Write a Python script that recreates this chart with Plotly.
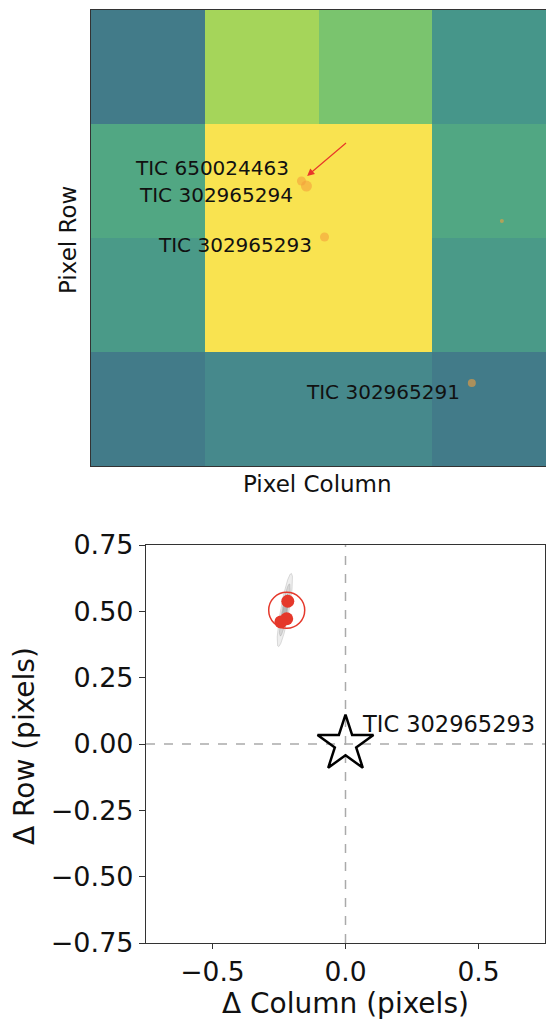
import numpy as np
import plotly.graph_objects as go

# ---------------- data ----------------
# Top panel: pixel flux image (rows listed bottom -> top), columns 0..3
pixel_flux = [
    [120, 150, 150, 120],
    [200, 520, 520, 200],
    [225, 520, 520, 225],
    [120, 370, 320, 190],
]
flux_colorscale = [[0.0, '#427b89'], [0.075, '#46898c'], [0.175, '#46968a'],
                   [0.2, '#4a9a88'], [0.2625, '#51a783'], [0.5, '#7ac46e'],
                   [0.625, '#a5d55a'], [1.0, '#f9e350']]

star_names = ['TIC 650024463', 'TIC 302965294', 'TIC 302965293', '', 'TIC 302965291']
star_col = [1.350, 1.394, 1.553, 3.112, 2.848]
star_row = [2.000, 1.956, 1.509, 1.649, 0.228]
star_size = [9, 11, 9, 4, 8]
label_col = [1.262, 1.297, 1.456, None, 2.760]
label_row = [2.114, 1.877, 1.439, None, 0.149]
arrow_tail = (1.755, 2.345)
arrow_head = (1.400, 2.044)

# Bottom panel: centroid offsets
offset_col = [-0.217, -0.221, -0.243]
offset_row = [0.538, 0.472, 0.460]
mean_col = [-0.221]
mean_row = [0.504]
target_name = 'TIC 302965293'
target_col = [0.0]
target_row = [0.0]
# error ellipses (center, semi-axes, tilt deg from vertical)
ell_center = (-0.228, 0.505)
ell_a = [0.140, 0.100, 0.060]
ell_b = [0.016, 0.011, 0.008]
ell_tilt = 10.0
x_ticks = [-0.5, 0.0, 0.5]
y_ticks = [-0.75, -0.5, -0.25, 0.0, 0.25, 0.5, 0.75]

FONT = 'DejaVu Sans'
W, H = 546, 1019

fig = go.Figure()

# ---------------- top panel ----------------
fig.add_trace(go.Heatmap(z=pixel_flux, x=[0, 1, 2, 3], y=[0, 1, 2, 3],
                         colorscale=flux_colorscale, showscale=False,
                         xaxis='x', yaxis='y', hoverinfo='skip'))
fig.add_trace(go.Scatter(x=star_col, y=star_row, mode='markers',
                         marker=dict(size=star_size, color='rgba(243,160,60,0.85)', line=dict(width=0)),
                         xaxis='x', yaxis='y', showlegend=False))
for n, lx, ly in zip(star_names, label_col, label_row):
    if n:
        fig.add_annotation(x=lx, y=ly, xref='x', yref='y', text=n, showarrow=False,
                           xanchor='right', yanchor='middle',
                           font=dict(family=FONT, size=20, color='#111111'))
fig.add_annotation(x=arrow_head[0], y=arrow_head[1], ax=arrow_tail[0], ay=arrow_tail[1],
                   xref='x', yref='y', axref='x', ayref='y', text='', showarrow=True,
                   arrowhead=2, arrowsize=1.2, arrowwidth=1.2, arrowcolor='#e8372a')

# ---------------- bottom panel ----------------
shades = ['rgba(150,150,150,0.16)', 'rgba(130,130,130,0.22)', 'rgba(110,110,110,0.32)']
t = np.linspace(0, 2 * np.pi, 120)
th = np.deg2rad(ell_tilt)
for a, b, c in zip(ell_a, ell_b, shades):
    ex = b * np.cos(t)
    ey = a * np.sin(t)
    xr = ell_center[0] + ex * np.cos(th) + ey * np.sin(th)
    yr = ell_center[1] - ex * np.sin(th) + ey * np.cos(th)
    fig.add_trace(go.Scatter(x=xr, y=yr, mode='lines', fill='toself', fillcolor=c,
                             line=dict(color='rgba(120,120,120,0.3)', width=0.8),
                             xaxis='x2', yaxis='y2', showlegend=False, hoverinfo='skip'))

fig.add_trace(go.Scatter(x=offset_col, y=offset_row, mode='markers',
                         marker=dict(size=13, color='#e5382b'),
                         xaxis='x2', yaxis='y2', showlegend=False))
fig.add_trace(go.Scatter(x=mean_col, y=mean_row, mode='markers',
                         marker=dict(size=36, symbol='circle-open', color='#e5382b', line=dict(width=1.5)),
                         xaxis='x2', yaxis='y2', showlegend=False))
fig.add_trace(go.Scatter(x=target_col, y=target_row, mode='markers',
                         marker=dict(size=42, symbol='star-open', color='black', line=dict(width=2.5)),
                         xaxis='x2', yaxis='y2', showlegend=False))
fig.add_annotation(x=0.053, y=0.075, xref='x2', yref='y2', text=target_name, showarrow=False,
                   xanchor='left', yanchor='middle', font=dict(family=FONT, size=22.5, color='#111111'))

fig.add_shape(type='line', xref='x2', yref='y2', x0=0, x1=0, y0=-0.75, y1=0.75,
              line=dict(color='#aaaaaa', width=1.5, dash='dash'), layer='below')
fig.add_shape(type='line', xref='x2', yref='y2', x0=-0.75, x1=0.75, y0=0, y1=0,
              line=dict(color='#aaaaaa', width=1.5, dash='dash'), layer='below')

# axis titles
fig.add_annotation(x=317 / W, y=1 - 484 / H, xref='paper', yref='paper', text='Pixel Column',
                   showarrow=False, xanchor='center', yanchor='middle',
                   font=dict(family=FONT, size=23, color='#111111'))
fig.add_annotation(x=68 / W, y=1 - 240 / H, xref='paper', yref='paper', text='Pixel Row',
                   showarrow=False, xanchor='center', yanchor='middle', textangle=-90,
                   font=dict(family=FONT, size=23, color='#111111'))
fig.add_annotation(x=345 / W, y=1 - 1003 / H, xref='paper', yref='paper', text='Δ Column (pixels)',
                   showarrow=False, xanchor='center', yanchor='middle',
                   font=dict(family=FONT, size=28, color='#111111'))
fig.add_annotation(x=24 / W, y=1 - 746 / H, xref='paper', yref='paper', text='Δ Row (pixels)',
                   showarrow=False, xanchor='center', yanchor='middle', textangle=-90,
                   font=dict(family=FONT, size=28, color='#111111'))

common = dict(showgrid=False, zeroline=False, showline=True, mirror=True,
              linecolor='#333333', linewidth=1.2, automargin=False)

fig.update_layout(
    width=W, height=H, margin=dict(l=0, r=0, t=0, b=0, pad=0, autoexpand=False),
    paper_bgcolor='white', plot_bgcolor='white', showlegend=False,
    font=dict(family=FONT, color='#111111'),
    xaxis=dict(domain=[91 / W, 1.0], range=[-0.5, 3.5], showticklabels=False, ticks='',
               anchor='y', **common),
    yaxis=dict(domain=[1 - 466 / H, 1 - 10 / H], range=[-0.5, 3.5], showticklabels=False, ticks='',
               anchor='x', **common),
    xaxis2=dict(domain=[146 / W, 545 / W], range=[-0.75, 0.75], tickvals=x_ticks,
                tickformat='.1f', ticks='outside', ticklen=5, tickcolor='#333333',
                anchor='y2', tickfont=dict(family=FONT, size=26.5, color='#111111'), **common),
    yaxis2=dict(domain=[1 - 943 / H, 1 - 545 / H], range=[-0.75, 0.75], tickvals=y_ticks,
                tickformat='.2f', ticks='outside', ticklen=6, tickcolor='#333333',
                anchor='x2', tickfont=dict(family=FONT, size=27, color='#111111'), **common),
)

fig.write_html('out.html')
